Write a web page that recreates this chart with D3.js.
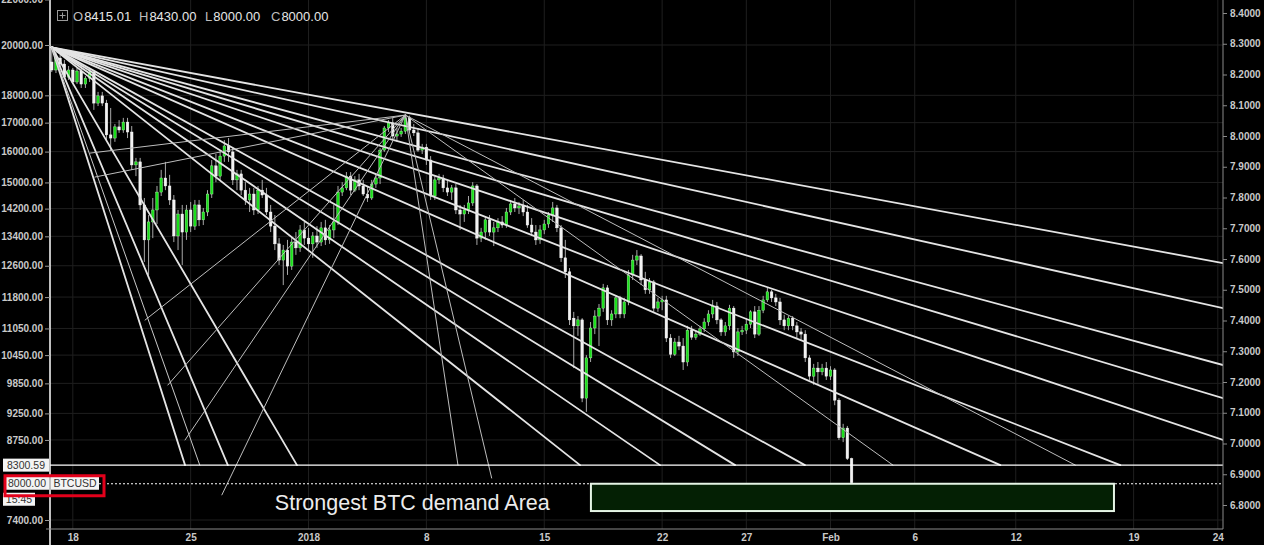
<!DOCTYPE html>
<html><head><meta charset="utf-8">
<script src="https://cdn.jsdelivr.net/npm/d3@7"></script>
<style>html,body{margin:0;padding:0;background:#000;overflow:hidden}svg{display:block}</style>
</head><body>
<svg id="c" width="1264" height="545"></svg>
<script>
// ---------------- DATA ----------------
const startTime = "2017-12-16T18:00:00Z";
const intervalHours = 6;
const opens = [19300,18980,19460,19220,18700,18980,18510,18940,18430,18660,18900,17710,17980,17710,16570,16460,16850,16740,17020,16670,
15560,15660,14310,13300,13810,14160,14700,15140,14890,14460,13410,14040,13520,14160,13690,14310,13870,14100,14640,15530,
15200,15850,16190,15990,15080,15270,14760,14460,14640,14160,14760,14610,14100,13690,13190,12750,13020,12590,13240,13080,
13580,13350,13190,13410,13240,13640,13300,13580,13810,14700,14830,15200,14760,15080,14890,14640,14520,14950,15140,16050,
16810,16990,16530,16600,16700,17170,16740,16640,16050,16150,15720,14580,15080,15140,14830,14700,14830,14160,14040,14160,
14370,14890,13350,13520,13870,13520,13640,13810,13720,14100,14340,14220,14280,14100,13720,13520,13300,13580,13750,14010,
14220,13640,12810,12440,11290,11110,11250,9550,10390,11060,11340,11530,12030,11250,11390,11780,11390,11680,12360,12750,
12860,12230,11980,12180,11530,11680,11730,10830,10470,10740,10650,10300,11010,10850,10920,11040,11200,11390,11580,11250,
10970,11110,11530,10520,10970,11010,11150,11440,10920,11480,11730,11930,11780,11680,11250,11110,11290,11110,10970,10920,
10390,10000,10170,10090,10170,10000,10130,9510,8790,8970,8415.01];
const highs = [19900,19710,19590,19380,19140,19060,19060,19140,18740,19060,18980,18130,18130,17830,17530,16950,17090,17170,17170,16880,
15790,15790,14520,14010,14520,14890,15400,15660,15240,14610,14160,14310,14310,14400,14460,14460,14220,14760,15720,15920,
16050,16390,16460,16120,15400,15400,15010,14830,14830,14890,15080,14830,14310,14010,13350,13160,13300,13350,13520,13720,
13810,13640,13520,13690,13810,13870,13720,14310,14890,15010,15330,15330,15200,15270,15080,14890,15080,15270,16120,16880,
17090,17170,16810,16810,17270,17250,16950,16810,16260,16260,15850,15200,15270,15240,15080,14920,14950,14310,14310,14580,
15010,14950,13640,13980,14010,13810,13920,13980,14220,14460,14520,14400,14460,14310,13920,13720,13720,13870,14100,14400,
14310,13720,13300,12540,11440,11340,11290,10450,11200,11480,11630,12130,12100,11480,11850,11830,11780,12490,12890,13020,
12910,12440,12280,12230,11780,11830,11830,10920,10830,10880,10830,11110,11110,11010,11110,11290,11480,11730,11680,11290,
11200,11610,11580,11060,11110,11290,11480,11580,11580,11830,12030,11980,11880,11780,11370,11340,11340,11200,11060,11010,
10450,10260,10300,10260,10300,10210,10170,9550,9050,9010,8430];
const lows = [18900,18860,19060,18630,18590,18430,18430,18280,18280,18510,17460,17600,17600,16390,16050,16330,16640,16640,16460,15400,
15200,14160,12700,12360,13350,13750,14580,14760,14310,13240,13020,12620,13300,13520,13580,13690,13720,13980,14520,15010,
15080,15660,15660,14920,14760,14610,14310,14100,14010,14040,14520,14010,13520,13020,12620,12100,12360,12490,12890,12970,
13160,13020,12810,13080,13130,13160,13190,13350,13720,14580,14760,14610,14700,14760,14580,14400,14460,14830,14950,15990,
16670,16390,16330,16500,16600,16670,16530,15990,15920,15560,14460,14460,14950,14700,14580,14460,14040,13580,13810,14040,
14280,13160,13240,13300,13410,13130,13520,13640,13640,14010,14100,14040,13980,13640,13410,13160,13190,13460,13640,13810,
13520,12700,12280,11130,10170,10880,9470,9280,10300,10920,10650,11440,11130,11110,11290,11290,11290,11600,12230,12620,
12100,11880,11880,11440,11440,11480,10740,10390,10430,10560,10130,10210,10790,10790,10880,10970,11110,11290,11150,10880,
10880,11010,10390,10430,10900,10920,11060,10830,10880,11410,11680,11680,11580,11130,11010,11010,11010,10830,10790,10300,
9920,9820,9840,10020,9920,9920,9410,8750,8710,8390,8000];
const closes = [18980,19460,19220,18700,18980,18510,18940,18430,18660,18900,17710,17980,17710,16570,16460,16850,16740,17020,16670,15560,
15660,14310,13300,13810,14160,14700,15140,14890,14460,13410,14040,13520,14160,13690,14310,13870,14100,14640,15530,15200,
15850,16190,15990,15080,15270,14760,14460,14640,14160,14760,14610,14100,13690,13190,12750,13020,12590,13240,13080,13580,
13350,13190,13410,13240,13640,13300,13580,13810,14700,14830,15200,14760,15080,14890,14640,14520,14950,15140,16050,16810,
16990,16530,16600,16700,17170,16740,16640,16050,16150,15720,14580,15080,15140,14830,14700,14830,14160,14040,14160,14370,
14890,13350,13520,13870,13520,13640,13810,13720,14100,14340,14220,14280,14100,13720,13520,13300,13580,13750,14010,14220,
13640,12810,12440,11250,11110,11250,9550,10390,11060,11340,11530,12030,11250,11390,11780,11390,11680,12360,12750,12860,
12230,11980,12180,11530,11680,11730,10830,10470,10740,10650,10300,11010,10850,10920,11040,11200,11390,11580,11250,10970,
11110,11530,10520,10970,11010,11150,11440,10920,11480,11730,11930,11780,11680,11250,11110,11290,11110,10970,10920,10390,
10000,10170,10090,10170,10000,10130,9510,8790,8970,8415.01,8000];

const priceTicks = [22000,20000,18000,17000,16000,15000,14200,13400,12600,11800,11050,10450,9850,9250,8750,7400];
const rightTicks = [8.4,8.3,8.2,8.1,8.0,7.9,7.8,7.7,7.6,7.5,7.4,7.3,7.2,7.1,7.0,6.9,6.8];
const dateTicks = ["2017-12-18","2017-12-25","2018-01-01","2018-01-08","2018-01-15","2018-01-22","2018-01-27","2018-02-01","2018-02-06","2018-02-12","2018-02-19","2018-02-24"];
const dateTickLabels = ["18","25","2018","8","15","22","27","Feb","6","12","19","24"];

const header = [["O","8415.01"],["H","8430.00"],["L","8000.00"],["C","8000.00"]];
const lastLevel = 8300.59;
const currentPrice = 8000.00;
const symbol = "BTCUSD";
const countdown = "15:45";

// fan drawn from the 17 Dec high
const fanAOrigin = ["2017-12-16T18:00Z", 19900];
const fanAEnds = [
  ["2017-12-24T16:00Z",8300.59],["2017-12-27T05:00Z",8300.59],["2017-12-31T07:30Z",8300.59],
  ["2018-01-17T03:00Z",8300.59],["2018-01-21T21:00Z",8300.59],["2018-01-26T08:00Z",8300.59],
  ["2018-01-30T11:30Z",8300.59],["2018-02-11T02:00Z",8300.59],["2018-02-18T05:00Z",8300.59],
  ["2018-02-24T07:30Z",8750],["2018-02-24T07:30Z",9550],["2018-02-24T07:30Z",10235],
  ["2018-02-24T07:30Z",11530],["2018-02-24T07:30Z",12670]];
const fanAThinEnds = [["2017-12-25T13:00Z",8300.59]];
// fan drawn from the 6 Jan high
const fanPOrigin = ["2018-01-06T18:00Z", 17270];
const fanPThinEnds = [
  ["2018-01-09T21:00Z",8300.59],["2018-01-11T21:00Z",8080],["2018-02-04T17:00Z",8300.59],["2018-02-15T13:00Z",8300.59],
  ["2017-12-26T20:30Z",7800],["2017-12-24T16:00Z",8750],["2017-12-23T15:30Z",9816],
  ["2017-12-22T07:00Z",11246],["2017-12-19T00:30Z",15950],["2017-12-19T07:30Z",15170]];

const demandBox = {from:"2018-01-17T18:30Z", to:"2018-02-17T20:00Z", top:8000, bottom:7540};
const demandText = {text:"Strongest BTC demand Area", at:"2017-12-30T00:00Z", price:7560};

// ---------------- CHART ----------------
const L = 50, R = 1223, B = 529;
const svg = d3.select("#c");
svg.append("rect").attr("width",1264).attr("height",545).attr("fill","#000");

const x = d3.scaleUtc().domain([new Date("2017-12-18T00:00:00Z"), new Date("2018-02-24T00:00:00Z")]).range([72.8, 1217.8]);
const y = d3.scaleLog().domain([20000, 7400]).range([45, 520]);
const yr = d3.scaleLinear().domain([8.4, 6.8]).range([13, 505]);
const P = d => new Date(d);

svg.append("clipPath").attr("id","plot").append("rect").attr("x",L).attr("y",0).attr("width",R-L).attr("height",B);

// grid
const grid = svg.append("g").attr("stroke","#1f1f1f").attr("stroke-width",1);
grid.selectAll("line.v").data(dateTicks).join("line")
  .attr("x1",d=>x(P(d+"T00:00Z"))).attr("x2",d=>x(P(d+"T00:00Z"))).attr("y1",0).attr("y2",B);
grid.selectAll("line.h").data(priceTicks).join("line").attr("class","h")
  .attr("x1",L).attr("x2",R).attr("y1",d=>y(d)).attr("y2",d=>y(d));

const plot = svg.append("g").attr("clip-path","url(#plot)");

// candles
const t0 = Date.parse(startTime);
const candles = closes.map((c,i)=>({t:new Date(t0+i*intervalHours*3600e3),o:opens[i],h:highs[i],l:lows[i],c}));
const bw = 2.6;
const cg = plot.append("g");
cg.selectAll("line").data(candles).join("line")
  .attr("x1",d=>x(d.t)).attr("x2",d=>x(d.t)).attr("y1",d=>y(d.h)).attr("y2",d=>y(d.l))
  .attr("stroke","#a8a8a8").attr("stroke-width",1);
cg.selectAll("rect").data(candles).join("rect")
  .attr("x",d=>x(d.t)-bw/2).attr("width",bw)
  .attr("y",d=>Math.min(y(d.o),y(d.c)))
  .attr("height",d=>Math.max(1,Math.abs(y(d.o)-y(d.c))))
  .attr("fill",d=>d.c>d.o?"#19e019":"#f2f2f2")
  .attr("stroke",d=>d.c>d.o?"#b8f5b8":"#ffffff").attr("stroke-width",0.4);

// fans
const fg = plot.append("g").attr("fill","none");
function fan(origin, ends, color, w){
  fg.selectAll(null).data(ends).join("line")
    .attr("x1",x(P(origin[0]))).attr("y1",y(origin[1]))
    .attr("x2",d=>x(P(d[0]))).attr("y2",d=>y(d[1]))
    .attr("stroke",color).attr("stroke-width",w).attr("stroke-linecap","round");
}
fan(fanAOrigin, fanAEnds, "#e4e4e4", 1.8);
fan(fanAOrigin, fanAThinEnds, "#c8c8c8", 1);
fan(fanPOrigin, fanPThinEnds, "#bdbdbd", 1);

// price level lines
plot.append("line").attr("x1",L).attr("x2",R).attr("y1",y(lastLevel)).attr("y2",y(lastLevel))
  .attr("stroke","#ffffff").attr("stroke-width",1.2);
plot.append("line").attr("x1",99).attr("x2",R).attr("y1",y(currentPrice)+1).attr("y2",y(currentPrice)+1)
  .attr("stroke","#ffffff").attr("stroke-width",1).attr("stroke-dasharray","2,2");

// demand box
plot.append("rect")
  .attr("x",x(P(demandBox.from))).attr("y",y(demandBox.top)+1)
  .attr("width",x(P(demandBox.to))-x(P(demandBox.from)))
  .attr("height",y(demandBox.bottom)-y(demandBox.top)-1)
  .attr("fill","#042004").attr("stroke","#e6f5e6").attr("stroke-width",2);
svg.append("text").attr("x",x(P(demandText.at))).attr("y",y(demandText.price))
  .attr("font-family","'Liberation Sans',Arial,sans-serif").attr("font-size",21.5)
  .attr("fill","#ececec").text(demandText.text);

// axes
const font = "'Liberation Sans',Arial,sans-serif";
const ax = svg.append("g").attr("transform",`translate(${L},0)`)
  .call(d3.axisLeft(y).tickValues(priceTicks).tickFormat(d=>d.toFixed(2)).tickSize(5).tickPadding(2));
ax.select(".domain").attr("stroke","#ffffff").attr("stroke-width",1.5).attr("d","M0,0V545");
ax.selectAll(".tick line").attr("stroke","#9a9a9a");
ax.selectAll("text").attr("fill","#c9c9c9").attr("font-size",10).attr("font-weight","bold").attr("font-family",font);

const axr = svg.append("g").attr("transform",`translate(${R},0)`)
  .call(d3.axisRight(yr).tickValues(rightTicks).tickFormat(d=>d.toFixed(4)).tickSize(4).tickPadding(3));
axr.select(".domain").attr("stroke","#8a8a8a").attr("d",`M0,0V${B}`);
axr.selectAll(".tick line").attr("stroke","#8a8a8a");
axr.selectAll("text").attr("fill","#c9c9c9").attr("font-size",10).attr("font-weight","bold").attr("font-family",font);

const axb = svg.append("g").attr("transform",`translate(0,${B})`)
  .call(d3.axisBottom(x).tickValues(dateTicks.map(d=>P(d+"T00:00Z"))).tickFormat((d,i)=>dateTickLabels[i]).tickSize(0).tickPadding(5));
axb.select(".domain").attr("stroke","#8a8a8a").attr("d",`M${L-4},0H${R}`);
axb.selectAll("text").attr("fill","#c9c9c9").attr("font-size",10).attr("font-weight","bold").attr("font-family",font);

// price labels on left axis
function tag(x0,yc,w,txt,anchorX){
  svg.append("rect").attr("x",x0).attr("y",yc-6.5).attr("width",w).attr("height",13).attr("fill","#f4f4f4");
  svg.append("text").attr("x",anchorX).attr("y",yc+3.8).attr("text-anchor","middle")
    .attr("font-family",font).attr("font-size",10.5).attr("fill","#333").text(txt);
}
tag(3,y(lastLevel),46,lastLevel.toFixed(2),26);
tag(5,y(currentPrice)+0.5,44,currentPrice.toFixed(2),27);
tag(51,y(currentPrice)+0.5,48,symbol,75);
tag(3,y(currentPrice)+16.5,32,countdown,19);
svg.append("rect").attr("x",5).attr("y",y(currentPrice)-7).attr("width",99).attr("height",20)
  .attr("fill","none").attr("stroke","#e3001b").attr("stroke-width",3);

// header
const hg = svg.append("g").attr("font-family",font).attr("font-size",13);
hg.append("rect").attr("x",57.5).attr("y",10.5).attr("width",10).attr("height",10).attr("fill","none").attr("stroke","#9a9a9a");
hg.append("path").attr("d","M62.5,12.5V18.5M59.5,15.5H65.5").attr("stroke","#9a9a9a");
let hx = 73;
header.forEach(([k,v])=>{
  const t = hg.append("text").attr("x",hx).attr("y",21);
  t.append("tspan").attr("fill","#bdbdbd").text(k);
  t.append("tspan").attr("fill","#e6e6e6").attr("dx",1).text(v);
  hx += 66;
});
</script>
</body></html>
